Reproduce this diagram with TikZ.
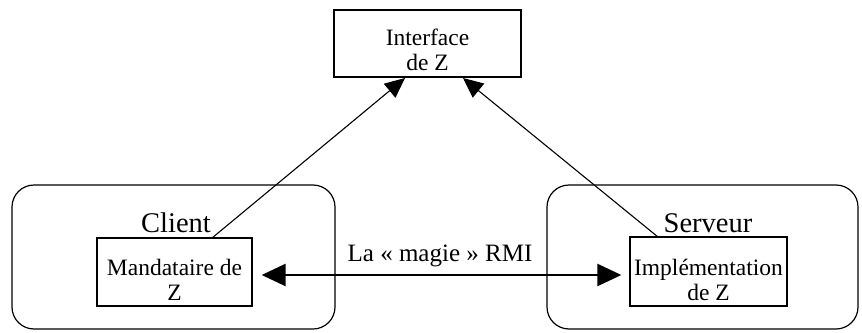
\documentclass[tikz,border=0pt]{standalone}
\usepackage{fontspec}
\setmainfont{Liberation Serif}
\usetikzlibrary{arrows.meta,calc}
\begin{document}
\begin{tikzpicture}[x=1pt,y=-1pt,
  box/.style={draw,line width=1.3pt,inner sep=0pt},
  boxtext/.style={inner sep=0pt,align=center,font=\fontsize{23.5}{25}\selectfont},
  grp/.style={draw,line width=1.2pt,rounded corners=22pt},
  grplabel/.style={font=\fontsize{28.5}{30}\selectfont},
  conn/.style={line width=1.1pt,-{Triangle[length=20pt,width=18pt]}},
  rmi/.style={line width=2.4pt,{Triangle[length=24pt,width=22pt]}-{Triangle[length=24pt,width=22pt]}}]
\useasboundingbox (0,0) rectangle (862,332);
\draw[grp] (12,185) rectangle (335,329);
\draw[grp] (547,185) rectangle (858,329);
\node[grplabel] (client) at (176,223) {Client};
\node[grplabel] (serveur) at (708,223) {Serveur};
\node[box,minimum width=187pt,minimum height=67pt] (iface) at (427.5,43.5) {};
\node[box,minimum width=155pt,minimum height=68pt] (mand) at (174.5,272) {};
\node[box,minimum width=157pt,minimum height=69pt] (impl) at (708.5,271.5) {};
\node[boxtext] (ifacet) at (427.5,50) {Interface\\de Z};
\node[boxtext] (mandt) at (174.5,280) {Mandataire de\\Z};
\node[boxtext] (implt) at (708.5,279.5) {Implémentation\\de Z};
\coordinate (mt) at (212,238);
\coordinate (it) at (658,237);
\coordinate (ia) at (405,78);
\coordinate (ib) at (463,78);
\draw[conn] (mt) -- (ia);
\draw[conn] (it) -- (ib);
\draw[rmi] ($(mand.east)+(9,3)$) -- ($(impl.west)+(-8,3.5)$);
\node[font=\fontsize{25}{28}\selectfont] (lab) at (440,256) {La « magie » RMI};
\end{tikzpicture}
\end{document}
